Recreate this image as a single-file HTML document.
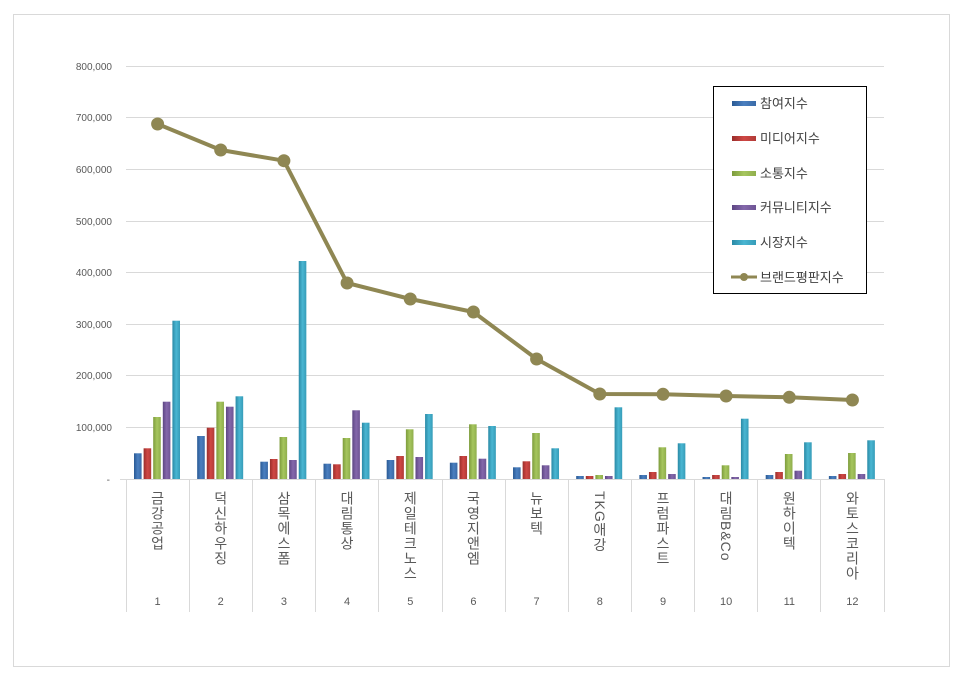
<!DOCTYPE html>
<html><head><meta charset="utf-8"><style>
html,body{margin:0;padding:0;background:#fff;}
#c{position:relative;width:960px;height:677px;overflow:hidden;font-family:"Liberation Sans","Noto Sans CJK KR",sans-serif;}
.xl{position:absolute;top:491px;width:20px;margin-left:-10px;writing-mode:vertical-rl;text-orientation:mixed;font-size:14px;letter-spacing:1px;color:#595959;line-height:20px;font-family:"Liberation Sans","Noto Sans CJK KR",sans-serif;}
.xn{position:absolute;top:596px;width:40px;margin-left:-20px;text-align:center;font-size:11px;color:#595959;}
</style></head><body><div id="c">
<svg width="960" height="677" viewBox="0 0 960 677" xmlns="http://www.w3.org/2000/svg" style="position:absolute;left:0;top:0">
<defs>
<linearGradient id="gb" x1="0" x2="1" y1="0" y2="0"><stop offset="0" stop-color="#2a5a94"/><stop offset="0.5" stop-color="#4a7fc0"/><stop offset="1" stop-color="#3a6aa6"/></linearGradient>
<linearGradient id="gr" x1="0" x2="1" y1="0" y2="0"><stop offset="0" stop-color="#9a2e2b"/><stop offset="0.5" stop-color="#cf4744"/><stop offset="1" stop-color="#b13b38"/></linearGradient>
<linearGradient id="gg" x1="0" x2="1" y1="0" y2="0"><stop offset="0" stop-color="#7d9c3c"/><stop offset="0.5" stop-color="#a6c65e"/><stop offset="1" stop-color="#8fae4c"/></linearGradient>
<linearGradient id="gp" x1="0" x2="1" y1="0" y2="0"><stop offset="0" stop-color="#5d4683"/><stop offset="0.5" stop-color="#8468ab"/><stop offset="1" stop-color="#6e5494"/></linearGradient>
<linearGradient id="gc" x1="0" x2="1" y1="0" y2="0"><stop offset="0" stop-color="#2a8aa6"/><stop offset="0.5" stop-color="#4ab6d2"/><stop offset="1" stop-color="#369cb8"/></linearGradient>
</defs>
<rect x="13.5" y="14.5" width="936" height="652" fill="#fff" stroke="#d9d9d9" stroke-width="1"/>
<g stroke="#d9d9d9" stroke-width="1">
<line x1="126" y1="66.5" x2="884" y2="66.5"/>
<line x1="126" y1="117.5" x2="884" y2="117.5"/>
<line x1="126" y1="169.5" x2="884" y2="169.5"/>
<line x1="126" y1="221.5" x2="884" y2="221.5"/>
<line x1="126" y1="272.5" x2="884" y2="272.5"/>
<line x1="126" y1="324.5" x2="884" y2="324.5"/>
<line x1="126" y1="375.5" x2="884" y2="375.5"/>
<line x1="126" y1="427.5" x2="884" y2="427.5"/>
<line x1="120" y1="479.5" x2="884" y2="479.5"/>
<line x1="126.5" y1="479" x2="126.5" y2="612"/>
<line x1="189.5" y1="479" x2="189.5" y2="612"/>
<line x1="252.5" y1="479" x2="252.5" y2="612"/>
<line x1="315.5" y1="479" x2="315.5" y2="612"/>
<line x1="378.5" y1="479" x2="378.5" y2="612"/>
<line x1="442.5" y1="479" x2="442.5" y2="612"/>
<line x1="505.5" y1="479" x2="505.5" y2="612"/>
<line x1="568.5" y1="479" x2="568.5" y2="612"/>
<line x1="631.5" y1="479" x2="631.5" y2="612"/>
<line x1="694.5" y1="479" x2="694.5" y2="612"/>
<line x1="757.5" y1="479" x2="757.5" y2="612"/>
<line x1="820.5" y1="479" x2="820.5" y2="612"/>
<line x1="884.5" y1="479" x2="884.5" y2="612"/>
</g>
<g font-family="Liberation Sans, sans-serif" font-size="10" fill="#595959" text-anchor="end">
<text x="112" y="70">800,000</text>
<text x="112" y="121">700,000</text>
<text x="112" y="173">600,000</text>
<text x="112" y="225">500,000</text>
<text x="112" y="276">400,000</text>
<text x="112" y="328">300,000</text>
<text x="112" y="379">200,000</text>
<text x="112" y="431">100,000</text>
<text x="110" y="483">-</text>
</g>
<g id="bars"></g>
<polyline fill="none" stroke="#8f8753" stroke-width="4" stroke-linejoin="round" points="157.6,124 220.7,150 283.9,160.7 347.1,283 410.3,299 473.4,312 536.6,359 599.8,394 663,394.3 726.1,396 789.3,397.3 852.4,400"/>
<g fill="#8f8753">
<circle cx="157.6" cy="124" r="6.5"/><circle cx="220.7" cy="150" r="6.5"/><circle cx="283.9" cy="160.7" r="6.5"/><circle cx="347.1" cy="283" r="6.5"/><circle cx="410.3" cy="299" r="6.5"/><circle cx="473.4" cy="312" r="6.5"/><circle cx="536.6" cy="359" r="6.5"/><circle cx="599.8" cy="394" r="6.5"/><circle cx="663" cy="394.3" r="6.5"/><circle cx="726.1" cy="396" r="6.5"/><circle cx="789.3" cy="397.3" r="6.5"/><circle cx="852.4" cy="400" r="6.5"/>
</g>
<rect x="713.5" y="86.5" width="153" height="207" fill="#fff" stroke="#000" stroke-width="1"/>
<rect x="732" y="101" width="24" height="5" fill="url(#gb)"/>
<rect x="732" y="136" width="24" height="5" fill="url(#gr)"/>
<rect x="732" y="171" width="24" height="5" fill="url(#gg)"/>
<rect x="732" y="205" width="24" height="5" fill="url(#gp)"/>
<rect x="732" y="240" width="24" height="5" fill="url(#gc)"/>
<line x1="731" y1="277" x2="757" y2="277" stroke="#8f8753" stroke-width="3"/>
<circle cx="744" cy="277" r="4" fill="#8f8753"/>
<g font-family="Liberation Sans, Noto Sans CJK KR, sans-serif" font-size="13" fill="#404040">
<text x="760" y="108">참여지수</text>
<text x="760" y="143">미디어지수</text>
<text x="760" y="178">소통지수</text>
<text x="760" y="212">커뮤니티지수</text>
<text x="760" y="247">시장지수</text>
<text x="760" y="282">브랜드평판지수</text>
</g>
</svg>
<div class="xl" style="left:157.6px">금강공업</div>
<div class="xl" style="left:220.7px">덕신하우징</div>
<div class="xl" style="left:283.9px">삼목에스폼</div>
<div class="xl" style="left:347.1px">대림통상</div>
<div class="xl" style="left:410.3px">제일테크노스</div>
<div class="xl" style="left:473.4px">국영지앤엠</div>
<div class="xl" style="left:536.6px">뉴보텍</div>
<div class="xl" style="left:599.8px">TKG애강</div>
<div class="xl" style="left:663px">프럼파스트</div>
<div class="xl" style="left:726.1px">대림B&amp;Co</div>
<div class="xl" style="left:789.3px">원하이텍</div>
<div class="xl" style="left:852.4px">와토스코리아</div>
<div class="xn" style="left:157.6px">1</div>
<div class="xn" style="left:220.7px">2</div>
<div class="xn" style="left:283.9px">3</div>
<div class="xn" style="left:347.1px">4</div>
<div class="xn" style="left:410.3px">5</div>
<div class="xn" style="left:473.4px">6</div>
<div class="xn" style="left:536.6px">7</div>
<div class="xn" style="left:599.8px">8</div>
<div class="xn" style="left:663px">9</div>
<div class="xn" style="left:726.1px">10</div>
<div class="xn" style="left:789.3px">11</div>
<div class="xn" style="left:852.4px">12</div>
</div>
<script>
(function(){
var tops=[
[453.3,448.3,417,401.7,320.7],
[436,427.7,401.7,406.7,396.3],
[461.7,459,437,460,261],
[463.7,464.3,438,410.3,422.7],
[460,456,429.3,457,414],
[462.7,456,424.3,458.7,426],
[467.3,461.3,433,465.3,448.3],
[476,476,475,476,407.3],
[475,472,447.3,474,443.3],
[477,475,465.3,477,418.7],
[475,472,454,470.7,442.3],
[476,474,453,474,440.3]];
var g=["gb","gr","gg","gp","gc"];
var s="";
for(var i=0;i<12;i++){for(var j=0;j<5;j++){
var x=126+63.17*i+8+j*9.6, y=tops[i][j];
s+='<rect x="'+x.toFixed(2)+'" y="'+y+'" width="7.6" height="'+(479-y).toFixed(2)+'" fill="url(#'+g[j]+')"/>';
}}
document.getElementById("bars").innerHTML=s;
})();
</script>
</body></html>
